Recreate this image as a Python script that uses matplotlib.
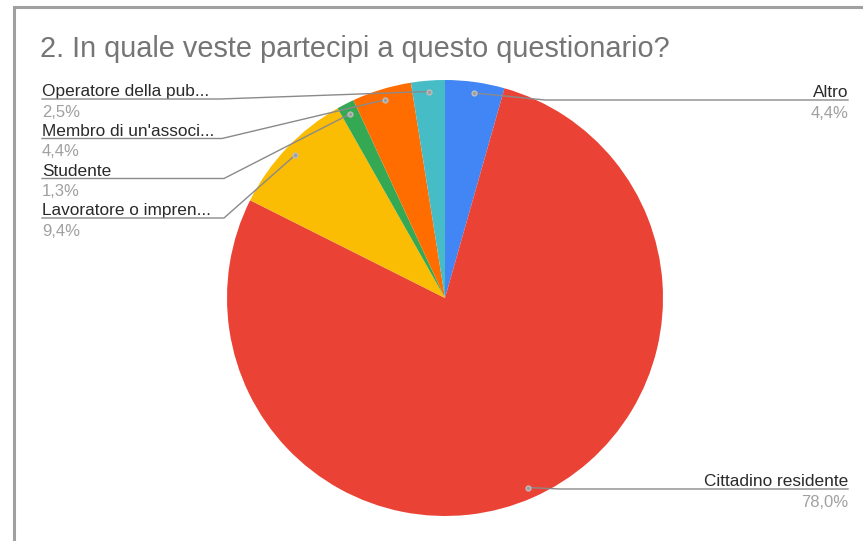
import matplotlib
matplotlib.use("Agg")
import matplotlib.pyplot as plt
import numpy as np

title = "2. In quale veste partecipi a questo questionario?"
labels = ["Altro", "Cittadino residente", "Lavoratore o impren...", "Studente",
          "Membro di un'associ...", "Operatore della pub..."]
values = [4.4, 78.0, 9.4, 1.3, 4.4, 2.5]
colors = ["#4285F4", "#EA4335", "#FBBC04", "#34A853", "#FF6D01", "#46BDC6"]

W, H = 863, 541
fig = plt.figure(figsize=(W / 100, H / 100), dpi=100)
fig.patch.set_facecolor("white")
plt.rcParams['font.family'] = ['Liberation Sans', 'DejaVu Sans']

# overlay axes in pixel coords
ov = fig.add_axes([0, 0, 1, 1])
ov.set_xlim(0, W)
ov.set_ylim(H, 0)
ov.axis("off")
# frame
ov.plot([14, 14, W + 5], [H + 5, 7, 7], color="#a0a0a0", lw=2.2, solid_joinstyle="miter")
ov.text(40, 49, title, fontsize=20.8, color="#757575", va="center", ha="left")

cx, cy, R = 445, 298, 218
ax = fig.add_axes([(cx - R) / W, (H - cy - R) / H, 2 * R / W, 2 * R / H])
wedges, _ = ax.pie(values, colors=colors, startangle=90, counterclock=False,
                   radius=1, wedgeprops=dict(linewidth=0))
ax.set_xlim(-1, 1)
ax.set_ylim(-1, 1)
ax.set_aspect("equal")
ax.axis("off")

def px2data(px, py):
    return (px - cx) / R, (cy - py) / R

# label layout (pixels): (text x, underline y, elbow x, side)
layout = {
    "Altro": (848, 100, 545, "right"),
    "Cittadino residente": (848, 489, 560, "right"),
    "Operatore della pub...": (42, 99, 220, "left"),
    "Membro di un'associ...": (42, 138.5, 222, "left"),
    "Studente": (42, 178.5, 224, "left"),
    "Lavoratore o impren...": (42, 218, 224, "left"),
}

total = sum(values)
cum = 0.0
for lab, v in zip(labels, values):
    mid = 90 - (cum + v / 2) / total * 360
    cum += v
    ang = np.deg2rad(mid)
    axp, ayp = 0.95 * np.cos(ang), 0.95 * np.sin(ang)
    tx, uy, ex, side = layout[lab]
    ex_d, uy_d = px2data(ex, uy)
    tx_d, _ = px2data(tx, uy)
    ax.plot([axp, ex_d, tx_d], [ayp, uy_d, uy_d], color="#8a8a8a", lw=1.0,
            clip_on=False, zorder=5)
    ax.plot([axp], [ayp], marker="o", ms=3.5, color="#9e9e9e", mec="#bdbdbd",
            clip_on=False, zorder=6)
    ha = "right" if side == "right" else "left"
    ov.text(tx, uy - 3, lab, fontsize=12.4, color="#2a2a2a", ha=ha, va="baseline")
    ov.text(tx, uy + 6, f"{v:.1f}%".replace(".", ","), fontsize=12.0,
            color="#a0a0a0", ha=ha, va="top")

fig.savefig("out.png", dpi=100, facecolor="white")
